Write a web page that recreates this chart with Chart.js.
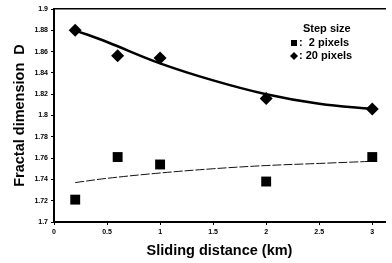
<!DOCTYPE html>
<html>
<head>
<meta charset="utf-8">
<script src="https://cdn.jsdelivr.net/npm/chart.js@4/dist/chart.umd.min.js"></script>
<style>
html,body{margin:0;padding:0;background:#fff;}
#wrap{position:relative;width:392px;height:263px;}
</style>
</head>
<body>
<div id="wrap"><canvas id="c" width="392" height="263"></canvas></div>
<script>
// Measured points
const distances = [0.2, 0.6, 1.0, 2.0, 3.0];
const step2Values = [1.721, 1.761, 1.754, 1.738, 1.761];
const step20Values = [1.880, 1.856, 1.854, 1.816, 1.806];
// Fitted curves
const fitX = [0.2, 0.5, 1.0, 1.5, 2.0, 2.5, 3.0];
const fit20 = [1.880, 1.869, 1.849, 1.833, 1.820, 1.811, 1.806];
const fit2 = [1.737, 1.741, 1.746, 1.750, 1.753, 1.755, 1.757];
const legendTitle = "Step size";
const legendLabels = [":  2 pixels", ": 20 pixels"];
const xTitle = "Sliding distance (km)";
const yTitle = "Fractal dimension  D";

const pts = (xs, ys) => xs.map((x, i) => ({x: x, y: ys[i]}));
const fmt = v => String(Number(Number(v).toFixed(2)));
const FONT = '"Liberation Sans", Arial, sans-serif';

const legendPlugin = {
  id: 'stepLegend',
  afterDraw(chart) {
    const ctx = chart.ctx, a = chart.chartArea;
    ctx.save();
    ctx.fillStyle = '#000';
    ctx.font = 'bold 11px ' + FONT;
    ctx.textBaseline = 'middle';
    const x0 = a.left + 240;
    ctx.fillText(legendTitle, x0 + 9, a.top + 20);
    // square marker
    ctx.fillRect(x0 - 3, a.top + 31, 6, 6);
    ctx.fillText(legendLabels[0], x0 + 5, a.top + 34);
    // diamond marker
    ctx.beginPath();
    const cx = x0, cy = a.top + 47;
    ctx.moveTo(cx, cy - 4); ctx.lineTo(cx + 4, cy); ctx.lineTo(cx, cy + 4); ctx.lineTo(cx - 4, cy);
    ctx.closePath(); ctx.fill();
    ctx.fillText(legendLabels[1], x0 + 5, a.top + 47);
    ctx.restore();
  }
};

new Chart(document.getElementById('c'), {
  type: 'scatter',
  data: {
    datasets: [
      {label: 'fit20', data: pts(fitX, fit20), showLine: true, tension: 0.4, borderColor: '#000', borderWidth: 2.5, pointRadius: 0, fill: false},
      {label: 'fit2', data: pts(fitX, fit2), showLine: true, tension: 0.4, borderColor: '#111', borderWidth: 1, borderDash: [9, 2], pointRadius: 0, fill: false},
      {label: '20 pixels', data: pts(distances, step20Values), pointStyle: 'rectRot', pointRadius: 6.5, backgroundColor: '#000', borderColor: '#000', borderWidth: 0},
      {label: '2 pixels', data: pts(distances, step2Values), pointStyle: 'rect', pointRadius: 7, backgroundColor: '#000', borderColor: '#000', borderWidth: 0}
    ]
  },
  options: {
    responsive: false,
    animation: false,
    devicePixelRatio: 1,
    layout: {padding: {left: 0, right: 7, top: 9, bottom: 0}},
    plugins: {legend: {display: false}, tooltip: {enabled: false}},
    scales: {
      x: {
        type: 'linear', position: 'bottom', min: 0, max: 3.12,
        afterFit(s) { s.height = 41; },
        ticks: {stepSize: 0.5, includeBounds: false, color: '#000', padding: 3, callback: fmt, font: {family: FONT, size: 7, weight: 'bold'}},
        grid: {drawOnChartArea: false, drawTicks: true, tickLength: 3, color: '#000'},
        border: {display: true, color: '#000', width: 2},
        title: {display: true, text: xTitle, color: '#000', padding: {top: 3, bottom: 3}, font: {family: FONT, size: 14.5, weight: 'bold'}}
      },
      x2: {
        type: 'linear', position: 'top', min: 0, max: 3.12,
        afterFit(s) { s.height = 0; },
        ticks: {display: false},
        grid: {drawOnChartArea: false, drawTicks: false},
        border: {display: true, color: '#000', width: 1.5}
      },
      y: {
        type: 'linear', min: 1.7, max: 1.9,
        afterFit(s) { s.width = 54; },
        ticks: {stepSize: 0.02, color: '#000', padding: 3, callback: fmt, font: {family: FONT, size: 7, weight: 'bold'}},
        grid: {drawOnChartArea: false, drawTicks: true, tickLength: 3, color: '#000'},
        border: {display: true, color: '#000', width: 2},
        title: {display: true, text: yTitle, color: '#000', padding: {top: 11, bottom: 11}, font: {family: FONT, size: 14.5, weight: 'bold'}}
      }
    }
  },
  plugins: [legendPlugin]
});
</script>
</body>
</html>
